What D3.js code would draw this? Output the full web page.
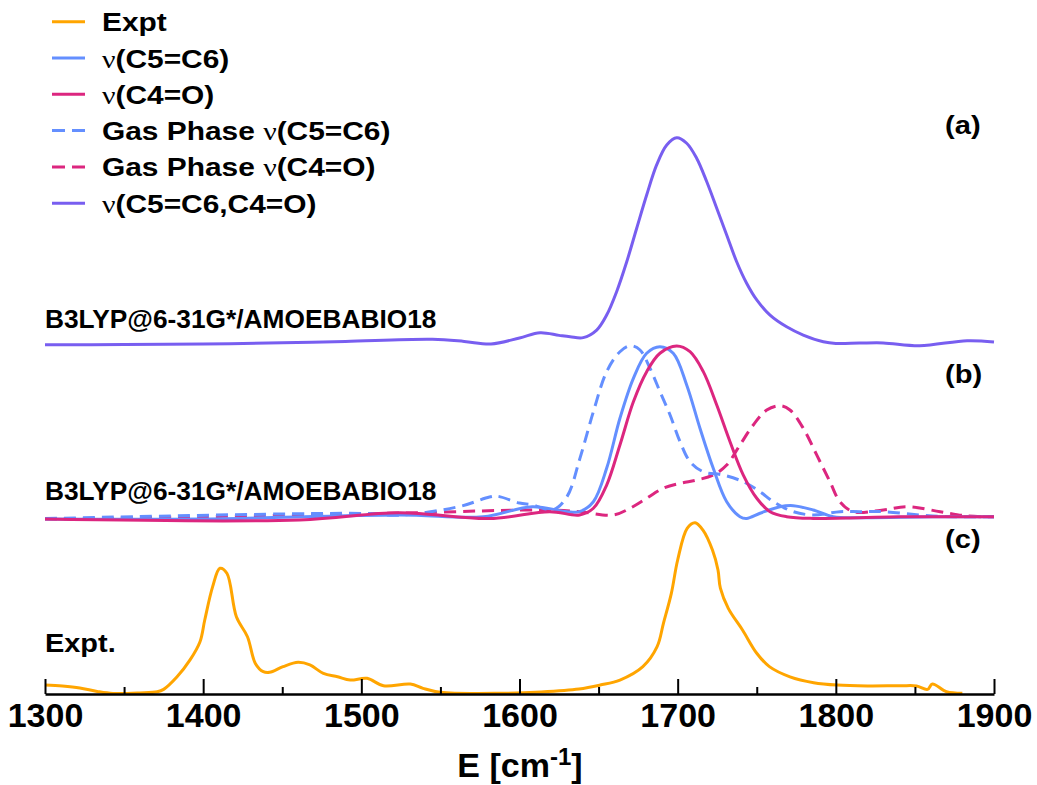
<!DOCTYPE html>
<html>
<head>
<meta charset="utf-8">
<script src="https://cdn.jsdelivr.net/npm/d3@7"></script>
<style>
  html, body { margin: 0; padding: 0; background: #fff; }
  svg { display: block; }
  text { font-family: "Liberation Sans", Arial, Helvetica, sans-serif; font-weight: bold; fill: #000; }
</style>
</head>
<body>
<svg id="chart" width="1037" height="785"></svg>
<script>
// ---------------- data ----------------
const xDomain = [1300, 1900];
const majorTicks = [1300, 1400, 1500, 1600, 1700, 1800, 1900];
const minorTicks = [1350, 1450, 1550, 1650, 1750, 1850];

// vertical offsets of the three stacked panels (normalized intensity units)
const panelOffsetA = 2;
const panelOffsetB = 1;
const panelOffsetC = 0;

// (c) experiment
const expt = [[1300,0.052],[1311,0.046],[1322,0.035],[1333,0.015],[1343,0.003],[1360,0.006],[1371,0.013],[1375,0.027],
  [1383.5,0.10],[1391.7,0.198],[1398,0.304],[1401,0.43],[1406,0.624],[1410.6,0.731],[1415,0.702],[1421,0.449],
  [1428,0.333],[1433,0.178],[1438,0.13],[1442,0.126],[1450.5,0.159],[1460,0.184],[1467.5,0.169],[1476,0.12],
  [1485,0.10],[1493,0.081],[1503.6,0.091],[1514,0.048],[1531,0.058],[1539,0.033],[1550,0.01],[1588,0.004],
  [1613.6,0.012],[1637.6,0.029],[1651,0.052],[1663.5,0.081],[1678,0.159],[1687,0.275],[1691,0.411],[1696,0.585],
  [1700,0.779],[1706,0.963],[1711,0.996],[1716,0.953],[1722,0.837],[1725.5,0.721],[1727,0.615],[1732,0.498],
  [1741,0.372],[1750,0.237],[1758,0.159],[1771,0.10],[1786,0.066],[1801,0.052],[1820,0.047],[1841,0.048],
  [1851,0.047],[1858,0.027],[1861,0.058],[1870,0.013],[1880,0.004]];

// (b) solvated / gas phase modes
const c5c6 = [[1300,0.017],[1398,0.017],[1524,0.041],[1577,0.031],[1608,0.089],[1630,0.06],[1638,0.06],[1646.7,0.118],
  [1655.1,0.312],[1663.5,0.603],[1672,0.835],[1680.4,0.981],[1688.8,1.019],[1697.2,0.981],[1705.7,0.797],
  [1714.1,0.545],[1722.5,0.312],[1731,0.118],[1739.4,0.031],[1743.6,0.021],[1752.1,0.051],[1764.7,0.089],
  [1773.1,0.095],[1785.7,0.07],[1798.4,0.031],[1815,0.025],[1861,0.03],[1900,0.03]];
const c4o = [[1300,0.017],[1461,0.012],[1524,0.054],[1581,0.02],[1619,0.06],[1638,0.041],[1646.7,0.08],[1655.1,0.215],
  [1663.5,0.448],[1672,0.699],[1680.4,0.874],[1688.8,0.981],[1699.4,1.023],[1707.8,0.99],[1716.2,0.874],
  [1724.7,0.68],[1733.1,0.467],[1741.5,0.273],[1750,0.138],[1758.4,0.06],[1768.9,0.031],[1785.7,0.021],
  [1815,0.025],[1841,0.03],[1900,0.03]];
const gasC5c6 = [[1300,0.02],[1501,0.05],[1524,0.04],[1562,0.09],[1581,0.145],[1586,0.15],[1600,0.11],[1608,0.10],
  [1621,0.07],[1630,0.147],[1638.2,0.37],[1646.7,0.641],[1655.1,0.874],[1663.5,0.99],[1669.9,1.025],[1676.2,1.0],
  [1682.5,0.894],[1688.8,0.758],[1695.2,0.622],[1701.5,0.467],[1707.8,0.351],[1716.2,0.292],[1728.8,0.273],
  [1741.5,0.234],[1752.1,0.176],[1760.5,0.118],[1773.1,0.06],[1785.7,0.041],[1802.6,0.06],[1815,0.06],
  [1830,0.06],[1861,0.035],[1900,0.03]];
const gasC4o = [[1300,0.017],[1398,0.03],[1524,0.052],[1619,0.07],[1638,0.06],[1659.3,0.041],[1669.9,0.08],
  [1680.4,0.138],[1690.9,0.196],[1701.5,0.225],[1712,0.244],[1722.5,0.273],[1731,0.331],[1739.4,0.448],
  [1747.8,0.564],[1756.3,0.651],[1764.7,0.676],[1771,0.651],[1779.4,0.545],[1787.9,0.39],[1796.3,0.234],
  [1802.6,0.118],[1811,0.06],[1830,0.07],[1845,0.089],[1866,0.06],[1883,0.035],[1900,0.03]];

// (a) combined mode
const combined = [[1300,0.03],[1350,0.032],[1400,0.035],[1450,0.042],[1490,0.05],[1545,0.062],[1565,0.05],[1582,0.035],
  [1600,0.07],[1613,0.10],[1625,0.085],[1632,0.077],[1640.3,0.072],[1648.8,0.116],[1655.1,0.203],[1661.4,0.339],
  [1667.8,0.513],[1674.1,0.708],[1680.4,0.901],[1686.7,1.076],[1693.1,1.192],[1699.4,1.234],[1705.7,1.202],
  [1712,1.115],[1718.4,0.978],[1724.7,0.824],[1731,0.669],[1737.3,0.513],[1743.6,0.388],[1750,0.291],
  [1758.4,0.203],[1768.9,0.135],[1779.4,0.087],[1792.1,0.048],[1800,0.038],[1815,0.04],[1830,0.041],
  [1853,0.025],[1883,0.054],[1900,0.047]];

const legendLabels = ["Expt", "ν(C5=C6)", "ν(C4=O)", "Gas Phase ν(C5=C6)", "Gas Phase ν(C4=O)", "ν(C5=C6,C4=O)"];
const panelLabels = ["(a)", "(b)", "(c)"];
const methodLabels = ["B3LYP@6-31G*/AMOEBABIO18", "B3LYP@6-31G*/AMOEBABIO18", "Expt."];
const axisTitle = "E [cm";
const axisTitleSup = "-1";

// ---------------- drawing ----------------
const svg = d3.select("#chart");
const x = d3.scaleLinear().domain(xDomain).range([45, 994]);
const y = d3.scaleLinear().domain([0, 4]).range([694, 6]);

const colors = {
  expt: "#FFA500", c5c6: "#648FFF", c4o: "#DC267F", comb: "#785EF0"
};
const dash = "12,7";

const series = [
  {data: expt, off: panelOffsetC, color: colors.expt, dash: null},
  {data: gasC4o, off: panelOffsetB, color: colors.c4o, dash: dash},
  {data: gasC5c6, off: panelOffsetB, color: colors.c5c6, dash: dash},
  {data: c5c6, off: panelOffsetB, color: colors.c5c6, dash: null},
  {data: c4o, off: panelOffsetB, color: colors.c4o, dash: null},
  {data: combined, off: panelOffsetA, color: colors.comb, dash: null}
];

series.forEach(s => {
  const line = d3.line()
    .x(d => x(d[0]))
    .y(d => y(d[1] + s.off))
    .curve(d3.curveCatmullRom.alpha(0.5));
  svg.append("path")
    .datum(s.data)
    .attr("d", line)
    .attr("fill", "none")
    .attr("stroke", s.color)
    .attr("stroke-width", 3)
    .attr("stroke-linejoin", "round")
    .attr("stroke-dasharray", s.dash);
});

// axis
const axisG = svg.append("g").attr("transform", `translate(0,${y(0)})`);
axisG.call(d3.axisBottom(x).tickValues(majorTicks).tickFormat(d3.format("d"))
  .tickSizeInner(-15).tickSizeOuter(0).tickPadding(9));
axisG.select(".domain").attr("stroke", "#000").attr("stroke-width", 2.5);
axisG.selectAll(".tick line").attr("stroke", "#000").attr("stroke-width", 2);
axisG.selectAll(".tick text")
  .style("font-family", "'Liberation Sans', Arial, sans-serif")
  .style("font-weight", "bold").style("font-size", "34px").attr("fill", "#000");
const minorG = svg.append("g").attr("transform", `translate(0,${y(0)})`);
minorG.call(d3.axisBottom(x).tickValues(minorTicks).tickFormat("").tickSizeInner(-7).tickSizeOuter(0));
minorG.select(".domain").remove();
minorG.selectAll(".tick line").attr("stroke", "#000").attr("stroke-width", 2);

// axis title
const t = svg.append("text").attr("x", 520).attr("y", 777).attr("text-anchor", "middle")
  .style("font-size", "34px");
t.append("tspan").text(axisTitle);
t.append("tspan").text(axisTitleSup).style("font-size", "24px").attr("dy", -12);
t.append("tspan").text("]").attr("dy", 12);

// panel labels
const panelY = [134, 383, 548];
panelLabels.forEach((lab, i) => {
  svg.append("text").attr("transform", `translate(945,${panelY[i]}) scale(1.12,1)`)
    .style("font-size", "26px").text(lab);
});

// method labels
const methodY = [328, 500, 652];
methodLabels.forEach((lab, i) => {
  const sx = i === 2 ? 1.1 : 1;
  svg.append("text").attr("transform", `translate(45,${methodY[i]}) scale(${sx},1)`)
    .style("font-size", "26.3px").text(lab);
});

// legend
const legendStyles = [
  {color: colors.expt, dash: null}, {color: colors.c5c6, dash: null}, {color: colors.c4o, dash: null},
  {color: colors.c5c6, dash: "13,7"}, {color: colors.c4o, dash: "13,7"}, {color: colors.comb, dash: null}
];
legendLabels.forEach((lab, i) => {
  const cy = 21.7 + i * 36.3;
  svg.append("line").attr("x1", 52).attr("x2", 85).attr("y1", cy).attr("y2", cy)
    .attr("stroke", legendStyles[i].color).attr("stroke-width", 3)
    .attr("stroke-dasharray", legendStyles[i].dash);
  const tx = svg.append("text").attr("transform", `translate(102,${cy + 9.5}) scale(1.15,1)`)
    .style("font-size", "26px");
  const parts = lab.split("ν");
  parts.forEach((p, j) => {
    if (j > 0) tx.append("tspan").text("ν").style("font-weight", "normal")
      .style("font-family", "'Liberation Serif', 'DejaVu Serif', serif");
    if (p) tx.append("tspan").text(p);
  });
});
</script>
</body>
</html>
